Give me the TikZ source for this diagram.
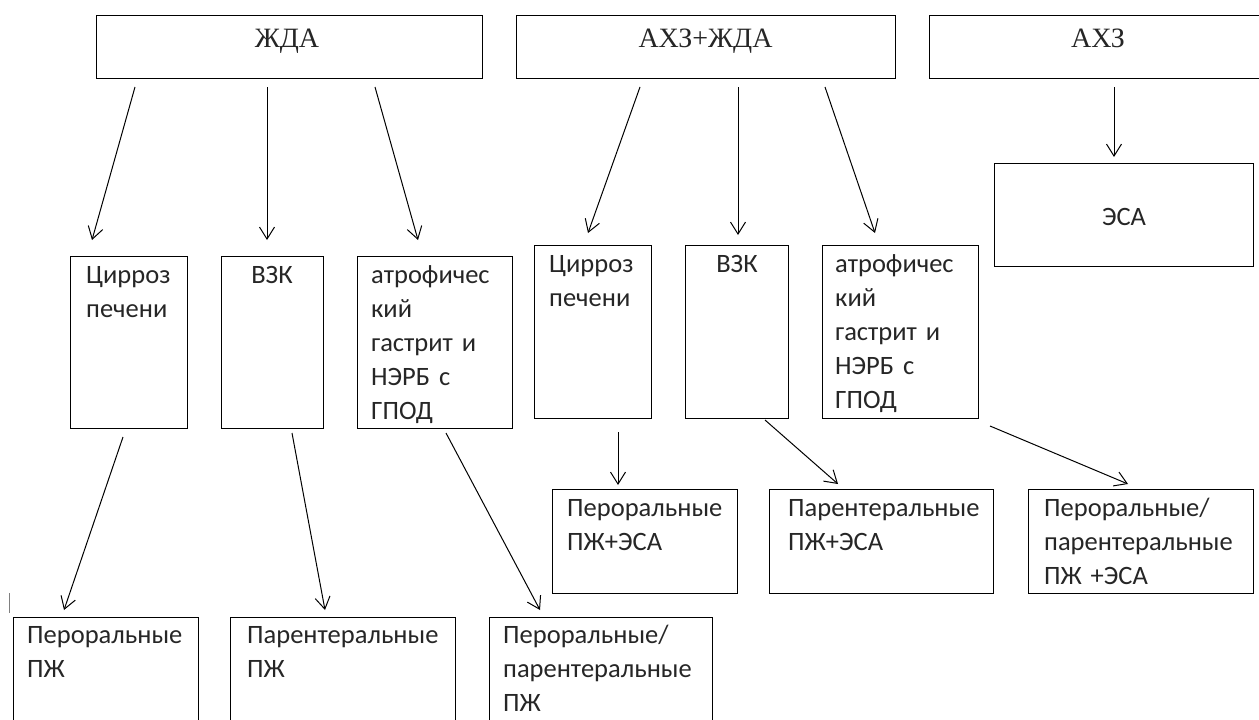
\documentclass[tikz,border=0pt]{standalone}
\usepackage{fontspec}
\setmainfont{Carlito}
\newfontfamily\serifru{Liberation Serif}
\usetikzlibrary{arrows.meta,calc}
\begin{document}
\begin{tikzpicture}[x=1pt,y=-1pt,
  box/.style={draw=black, line width=1.1pt, inner sep=0pt, anchor=north west},
  txt/.style={inner sep=0pt, anchor=base west, align=left, text width=240pt, text=black!85,
     font=\fontsize{26.5}{34}\selectfont},
  ctxt/.style={inner sep=0pt, anchor=base, text=black!85, font=\fontsize{26.5}{34}\selectfont},
  head/.style={inner sep=0pt, anchor=base, text=black!85, font=\serifru\fontsize{28}{32}\selectfont},
  arr/.style={line width=1pt, -{Straight Barb[length=12pt,width=15pt,line width=1pt]}}
]
\useasboundingbox (0,0) rectangle (1259,720);
\fill[white] (0,0) rectangle (1259,720);

% top boxes
\node[box, minimum width=386pt, minimum height=63pt] (jda) at (96,15) {};
\node[box, minimum width=379pt, minimum height=63pt] (axjda) at (516,15) {};
\node[box, minimum width=338pt, minimum height=63pt] (axz) at (929,15) {};
\node[head] (jdat) at (287,47) {ЖДА};
\node[head] (axjdat) at (705.5,47) {АХЗ+ЖДА};
\node[head] (axzt) at (1098,47) {АХЗ};

% middle boxes
\node[box, minimum width=117pt, minimum height=172pt] (c1) at (70,256) {};
\node[box, minimum width=102pt, minimum height=172pt] (v1) at (221,256) {};
\node[box, minimum width=155pt, minimum height=172pt] (a1) at (357,256) {};
\node[box, minimum width=117pt, minimum height=173pt] (c2) at (534,245) {};
\node[box, minimum width=103pt, minimum height=173pt] (v2) at (685,245) {};
\node[box, minimum width=156pt, minimum height=173pt] (a2) at (822,245) {};
\node[box, minimum width=259pt, minimum height=103pt] (esa) at (994,163) {};

\node[txt] (c1t) at ($(c1.north west)+(16,27)$) {Цирроз\\печени};
\node[ctxt] (v1t) at (272,283) {ВЗК};
\node[txt] (a1t) at ($(a1.north west)+(14,27)$) {атрофичес\\кий\\гастрит и\\НЭРБ с\\ГПОД};
\node[txt] (c2t) at ($(c2.north west)+(15,27)$) {Цирроз\\печени};
\node[ctxt] (v2t) at (737,272) {ВЗК};
\node[txt] (a2t) at ($(a2.north west)+(13,27)$) {атрофичес\\кий\\гастрит и\\НЭРБ с\\ГПОД};
\node[ctxt] (esat) at (1124,225) {ЭСА};

% bottom boxes
\node[box, minimum width=185pt, minimum height=110pt] (p1) at (13,617) {};
\node[box, minimum width=225pt, minimum height=110pt] (p2) at (230,617) {};
\node[box, minimum width=223pt, minimum height=110pt] (p3) at (489,617) {};
\node[box, minimum width=185pt, minimum height=104pt] (q1) at (552,489) {};
\node[box, minimum width=224pt, minimum height=104pt] (q2) at (769,489) {};
\node[box, minimum width=225pt, minimum height=104pt] (q3) at (1028,489) {};

\node[txt] (p1t) at ($(p1.north west)+(14,26)$) {Пероральные\\ПЖ};
\node[txt] (p2t) at ($(p2.north west)+(17,26)$) {Парентеральные\\ПЖ};
\node[txt] (p3t) at ($(p3.north west)+(14,26)$) {Пероральные/\\парентеральные\\ПЖ};
\node[txt] (q1t) at ($(q1.north west)+(15,27)$) {Пероральные\\ПЖ+ЭСА};
\node[txt] (q2t) at ($(q2.north west)+(19,27)$) {Парентеральные\\ПЖ+ЭСА};
\node[txt] (q3t) at ($(q3.north west)+(16,27)$) {Пероральные/\\парентеральные\\ПЖ +ЭСА};

% arrow end points
\coordinate (s1) at (135,87);  \coordinate (e1) at (92,240);
\coordinate (s2) at (267,87);  \coordinate (e2) at (267,240);
\coordinate (s3) at (375,87);  \coordinate (e3) at (418,240);
\coordinate (s4) at (640,87);  \coordinate (e4) at (588,233);
\coordinate (s5) at (738,87);  \coordinate (e5) at (738,235);
\coordinate (s6) at (825,87);  \coordinate (e6) at (875,233);
\coordinate (s7) at (1114,87); \coordinate (e7) at (1114,157);
\coordinate (s8) at (123,437); \coordinate (e8) at (64,610);
\coordinate (s9) at (292,433); \coordinate (e9) at (325,610);
\coordinate (s10) at (446,433); \coordinate (e10) at (540,610);
\coordinate (s11) at (618,432); \coordinate (e11) at (618,485);
\coordinate (s12) at (765,420); \coordinate (e12) at (838,484);
\coordinate (s13) at (990,426); \coordinate (e13) at (1128,484);

\foreach \i in {1,...,13} \draw[arr] (s\i) -- (e\i);

% stray mark at left edge
\coordinate (m1) at (9,593); \coordinate (m2) at (9,613);
\draw[gray, line width=0.8pt] (m1) -- (m2);
\end{tikzpicture}
\end{document}
